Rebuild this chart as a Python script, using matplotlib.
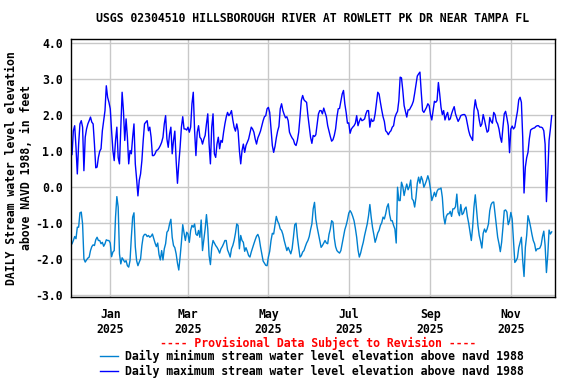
import matplotlib
matplotlib.use("Agg")
import matplotlib.pyplot as plt
import pandas as pd

# daily values, first day 2024-12-03, feet above NAVD 1988
start_date = "2024-12-03"

daily_max_ft = [
    0.90, 1.56, 1.70, 1.10, 0.36, 1.19, 1.75, 1.84, 1.66, 0.45,
    1.38, 1.61, 1.75, 1.84, 1.94, 1.80, 1.75, 1.19, 0.53, 0.55,
    0.82, 0.99, 1.06, 1.56, 1.84, 2.12, 2.81, 2.49, 2.35, 2.17,
    1.56, 1.01, 0.73, 1.29, 1.66, 0.82, 0.64, 1.66, 2.63, 2.12,
    1.29, 1.89, 1.38, 0.64, 1.01, 0.92, 1.38, 1.75, 0.64, 0.22,
    -0.25, 0.18, 0.36, 0.73, 1.29, 1.75, 1.80, 1.84, 1.56, 1.66,
    1.38, 0.87, 0.87, 0.92, 1.01, 1.03, 1.08, 1.15, 1.24, 1.38,
    1.75, 1.98, 1.33, 1.10, 1.47, 1.66, 0.92, 1.29, 1.55, 0.73,
    0.10, 0.64, 1.10, 1.66, 1.95, 1.61, 1.61, 1.58, 1.66, 1.52,
    1.66, 2.31, 2.63, 1.56, 0.87, 1.52, 1.70, 1.38, 1.33, 1.19,
    1.33, 1.43, 1.75, 2.03, 1.19, 0.64, 1.66, 2.03, 0.92, 0.82,
    1.19, 1.38, 1.06, 1.29, 1.24, 1.52, 1.75, 1.94, 2.07, 1.98,
    2.03, 2.12, 1.86, 1.66, 1.55, 1.75, 1.56, 1.01, 0.64, 1.01,
    1.19, 0.96, 1.15, 1.24, 1.33, 1.49, 1.66, 1.61, 1.52, 1.33,
    1.19, 1.36, 1.45, 1.55, 1.69, 1.84, 1.95, 1.98, 2.17, 2.21,
    2.07, 1.61, 1.15, 0.96, 1.12, 1.36, 1.55, 1.68, 2.17, 2.31,
    2.12, 2.01, 1.92, 1.95, 1.84, 1.52, 1.43, 1.36, 1.31, 1.19,
    1.15, 1.29, 1.52, 1.94, 2.40, 2.54, 2.42, 2.38, 2.35, 1.98,
    1.68, 1.38, 1.21, 1.43, 1.40, 1.45, 1.75, 2.03, 2.12, 2.12,
    2.03, 2.19, 2.07, 1.95, 1.70, 1.55, 1.40, 1.27, 1.31, 1.43,
    1.61, 1.94, 2.17, 2.18, 2.38, 2.58, 2.68, 2.31, 2.07, 1.77,
    1.78, 1.49, 1.61, 1.66, 1.70, 1.77, 1.98, 1.70, 1.82, 1.91,
    1.84, 1.86, 1.89, 2.03, 2.12, 2.12, 1.66, 1.89, 1.82, 1.84,
    2.03, 2.32, 2.63, 2.58, 2.35, 2.14, 1.95, 1.82, 1.56, 1.52,
    1.45, 1.52, 1.56, 1.66, 1.70, 1.93, 2.03, 2.10, 2.40, 3.05,
    3.03, 2.68, 2.26, 2.10, 1.94, 2.14, 2.14, 2.21, 2.28, 2.38,
    2.60, 2.84, 3.08, 3.14, 3.19, 2.63, 2.12, 2.07, 2.14, 2.21,
    2.31, 2.26, 2.01, 1.86, 2.12, 2.38, 2.35, 2.40, 2.90, 2.58,
    2.21, 2.01, 2.12, 1.86, 1.98, 2.07, 1.86, 1.89, 2.03, 2.14,
    2.23, 2.03, 1.92, 1.82, 1.89, 1.98, 2.00, 2.01, 2.01, 1.94,
    1.75, 1.56, 1.43, 1.36, 1.29, 2.12, 2.42, 2.21, 2.12, 1.86,
    1.68, 1.75, 2.01, 1.86, 1.68, 1.52, 1.56, 1.93, 1.82, 1.77,
    2.07, 2.01, 1.82, 1.75, 1.61, 1.38, 1.24, 1.66, 2.03, 2.10,
    1.92, 1.70, 0.95, 1.61, 1.69, 1.61, 1.66, 1.89, 2.10, 2.42,
    2.49, 2.35, 1.38, -0.17, 0.55, 0.81, 0.96, 1.33, 1.58, 1.61,
    1.63, 1.64, 1.68, 1.70, 1.70, 1.66, 1.66, 1.64, 1.56, 1.19,
    -0.41, 0.36, 1.29, 1.61, 1.98,
]

daily_min_ft = [
    -1.58, -1.49, -1.38, -1.44, -1.12, -1.12, -0.72, -0.70, -1.03, -2.00,
    -2.09, -2.03, -1.98, -1.95, -1.77, -1.66, -1.61, -1.63, -1.47, -1.40,
    -1.49, -1.49, -1.58, -1.54, -1.65, -1.58, -1.47, -1.49, -1.49, -1.56,
    -1.94, -1.81, -1.77, -0.84, -0.27, -0.56, -1.86, -2.14, -1.97, -2.03,
    -2.09, -2.05, -2.19, -2.23, -2.05, -1.40, -0.84, -0.72, -1.66, -2.05,
    -2.19, -2.09, -2.00, -1.63, -1.38, -1.32, -1.32, -1.38, -1.35, -1.40,
    -1.37, -1.31, -1.44, -1.56, -1.66, -1.56, -1.88, -2.03, -1.77, -2.03,
    -1.72, -1.58, -1.26, -1.21, -1.03, -0.90, -1.40, -1.63, -1.69, -1.86,
    -2.12, -2.31, -1.95, -1.54, -1.05, -1.28, -1.49, -1.26, -1.31, -1.54,
    -1.21, -1.07, -1.12, -1.03, -1.31, -1.35, -1.21, -1.40, -0.92, -1.77,
    -1.47, -1.17, -0.77, -1.17, -1.91, -2.16, -1.69, -1.49, -1.56, -1.63,
    -1.68, -1.75, -1.84, -1.72, -1.66, -1.58, -1.49, -1.49, -1.75, -1.84,
    -1.95, -1.72, -1.63, -1.49, -1.29, -1.03, -1.07, -1.72, -1.35, -1.49,
    -1.54, -1.79, -1.69, -1.79, -1.91, -1.95, -1.81, -1.69, -1.58, -1.47,
    -1.37, -1.32, -1.42, -1.66, -1.86, -2.06, -2.12, -2.18, -2.19, -1.95,
    -1.79, -1.49, -1.29, -1.31, -1.07, -0.82, -0.95, -1.03, -1.17, -1.21,
    -1.32, -1.49, -1.63, -1.77, -1.68, -1.77, -1.86, -1.72, -1.40, -1.05,
    -1.01, -1.40, -1.69, -1.95, -1.91, -1.81, -1.77, -1.66, -1.56, -1.49,
    -1.38, -1.19, -1.03, -0.61, -0.43, -0.89, -1.12, -1.31, -1.49, -1.68,
    -1.63, -1.56, -1.49, -1.56, -1.58, -1.32, -1.17, -0.94, -0.98, -1.42,
    -1.66, -1.77, -1.81, -1.84, -1.77, -1.58, -1.40, -1.19, -1.07, -0.92,
    -0.73, -0.66, -0.72, -0.82, -0.94, -1.15, -1.40, -1.75, -1.95, -1.84,
    -1.68, -1.54, -1.35, -1.19, -1.03, -0.80, -0.49, -0.84, -1.12, -1.32,
    -1.54, -1.42, -1.28, -1.21, -1.07, -1.00, -0.84, -0.89, -0.75, -0.56,
    -0.47, -0.77, -0.94, -0.94, -1.07, -1.17, -1.56, -0.01, -0.38, -0.38,
    0.13, 0.01, -0.24, -0.06, 0.08, -0.08, 0.01, 0.19, -0.33, -0.38,
    -0.56, -0.29, 0.10, 0.27, 0.10, 0.29, 0.19, -0.01, 0.08, 0.18,
    0.31, 0.18, -0.06, -0.38, -0.27, -0.15, -0.27, -0.12, -0.06, -0.06,
    -0.03, -0.29, -0.82, -1.03, -0.82, -0.75, -0.75, -0.68, -0.82, -0.61,
    -0.61, -0.55, -0.20, -0.70, -0.80, -0.49, -0.77, -0.73, -0.61, -0.56,
    -0.82, -1.01, -1.26, -1.49, -1.12, -0.56, -0.22, -0.66, -1.07, -1.35,
    -1.51, -1.70, -1.29, -1.17, -1.26, -1.17, -1.03, -0.66, -0.49, -0.43,
    -0.42, -0.75, -1.07, -1.40, -1.58, -1.80, -1.54, -1.12, -0.66, -0.64,
    -0.70, -1.05, -0.94, -0.71, -0.89, -1.49, -2.10, -2.05, -1.97, -1.69,
    -1.54, -1.40, -2.05, -2.49, -1.68, -1.35, -0.80, -0.94, -1.12, -1.32,
    -1.49, -1.58, -1.78, -1.72, -1.72, -1.70, -1.61, -1.38, -1.23, -1.63,
    -2.38, -1.90, -1.20, -1.31, -1.25,
]

y_ticks = [-3.0, -2.0, -1.0, 0.0, 1.0, 2.0, 3.0, 4.0]
x_tick_dates = ["2025-01-01", "2025-03-01", "2025-05-01", "2025-07-01", "2025-09-01", "2025-11-01"]
x_tick_labels = ["Jan\n2025", "Mar\n2025", "May\n2025", "Jul\n2025", "Sep\n2025", "Nov\n2025"]

title = "USGS 02304510 HILLSBOROUGH RIVER AT ROWLETT PK DR NEAR TAMPA FL"
y_label = "DAILY Stream water level elevation\nabove NAVD 1988, in feet"
min_label = "Daily minimum stream water level elevation above navd 1988"
max_label = "Daily maximum stream water level elevation above navd 1988"

dates_max = pd.date_range(start_date, periods=len(daily_max_ft), freq="D")
dates_min = pd.date_range(start_date, periods=len(daily_min_ft), freq="D")

plt.rcParams["font.family"] = "DejaVu Sans Mono"
plt.rcParams["font.weight"] = "bold"
plt.rcParams["font.size"] = 8.3

fig = plt.figure(figsize=(5.76, 3.84), dpi=100)
ax = fig.add_axes([71 / 576, 1 - 297 / 384, 484 / 576, 258 / 384])

l_min, = ax.plot(dates_min, daily_min_ft, color="#0080d0", lw=1.0)
l_max, = ax.plot(dates_max, daily_max_ft, color="#0000ff", lw=1.0)

ax.set_xlim(pd.Timestamp("2024-12-02 05:00"), pd.Timestamp("2025-12-04 12:00"))
ax.set_ylim(-3.06, 4.11)
ax.set_yticks(y_ticks)
ax.set_yticklabels([f"{v:.1f}" for v in y_ticks])
ax.set_xticks(pd.to_datetime(x_tick_dates))
ax.set_xticklabels(x_tick_labels)
ax.grid(True, color="#c8c8c8", lw=1.0)
ax.set_axisbelow(True)
ax.tick_params(length=0)
ax.tick_params(axis="y", pad=6)
ax.tick_params(axis="x", pad=8)
for s in ax.spines.values():
    s.set_linewidth(1.0)

fig.text(313 / 576, 1 - 19 / 384, title, ha="center", va="center")
fig.text(19 / 576, 1 - 168 / 384, y_label, rotation=90, ha="center", va="center",
         multialignment="center", linespacing=1.2)
fig.text(318 / 576, 1 - 343 / 384, "---- Provisional Data Subject to Revision ----",
         color="red", ha="center", va="center")

fig.legend([l_min, l_max], [min_label, max_label], loc="upper left",
           bbox_to_anchor=(100 / 576, 1 - 350 / 384), frameon=False,
           borderpad=0, borderaxespad=0, handlelength=1.55, handletextpad=0.6,
           labelspacing=0.15)

fig.savefig("out.png", dpi=100)
